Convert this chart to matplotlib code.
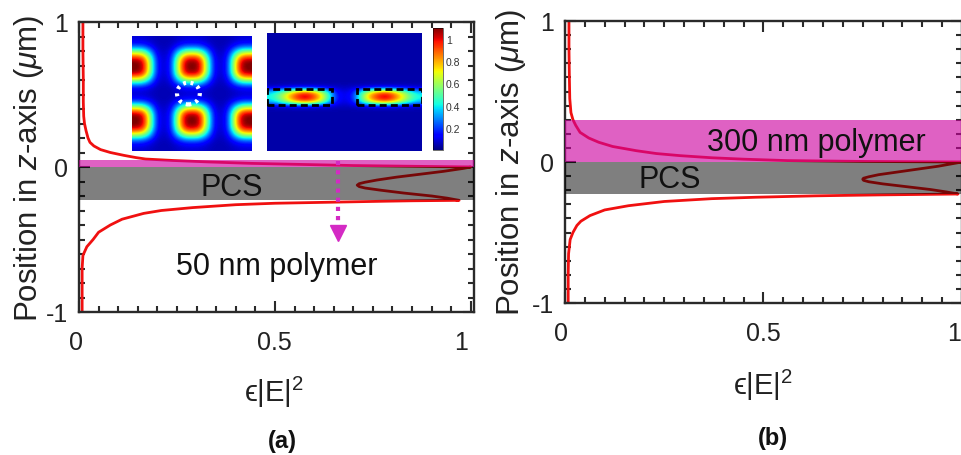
import numpy as np
import matplotlib
matplotlib.use("Agg")
import matplotlib.pyplot as plt
from matplotlib.patches import Rectangle, Circle
from matplotlib.cm import ScalarMappable
from matplotlib.colors import Normalize
from matplotlib.ticker import MultipleLocator
from matplotlib.transforms import ScaledTranslation

plt.rcParams['font.family'] = ['Liberation Sans', 'DejaVu Sans']
plt.rcParams['mathtext.fontset'] = 'custom'
plt.rcParams['mathtext.rm'] = 'Liberation Sans'
plt.rcParams['mathtext.it'] = 'Liberation Sans:italic'
plt.rcParams['mathtext.bf'] = 'Liberation Sans:bold'

# ---------------- data ----------------
# panel (a): field profile (z in um, eps|E|^2)
za_top = [1.0, 0.8, 0.6, 0.45, 0.35, 0.3, 0.25, 0.2, 0.17, 0.145, 0.12, 0.1, 0.08, 0.065, 0.055,
          0.045, 0.035, 0.025, 0.017, 0.01, 0.005, 0.0]
va_top = [0.01, 0.01, 0.011, 0.011, 0.012, 0.014, 0.018, 0.023, 0.028, 0.038, 0.055, 0.08, 0.115,
          0.145, 0.17, 0.24, 0.33, 0.44, 0.58, 0.7, 0.85, 1.0]
za_mid = [-0.01, -0.03, -0.05, -0.07, -0.09, -0.105, -0.115, -0.125, -0.135, -0.145, -0.16,
          -0.18, -0.2, -0.215, -0.23]
va_mid = [0.98, 0.93, 0.87, 0.81, 0.76, 0.73, 0.715, 0.71, 0.715, 0.73, 0.77, 0.83, 0.9,
          0.94, 0.97]
za_bot = [-0.233, -0.236, -0.24, -0.25, -0.26, -0.28, -0.3, -0.32, -0.36, -0.4, -0.45, -0.5,
          -0.55, -0.61, -0.7, -0.85, -1.0]
va_bot = [0.85, 0.78, 0.7, 0.5, 0.4, 0.29, 0.21, 0.165, 0.11, 0.08, 0.05, 0.036, 0.02, 0.01,
          0.008, 0.008, 0.008]

# panel (b)
zb_top = [1.0, 0.8, 0.6, 0.45, 0.35, 0.3, 0.26, 0.21, 0.17, 0.14, 0.11, 0.08, 0.06, 0.045,
          0.03, 0.02, 0.01, 0.004, 0.0]
vb_top = [0.01, 0.01, 0.011, 0.012, 0.015, 0.02, 0.027, 0.038, 0.06, 0.085, 0.12, 0.18, 0.23,
          0.29, 0.37, 0.45, 0.56, 0.75, 1.0]
zb_mid = [-0.01, -0.03, -0.05, -0.07, -0.09, -0.105, -0.115, -0.122, -0.13, -0.14, -0.155,
          -0.175, -0.195, -0.212, -0.227]
vb_mid = [0.98, 0.94, 0.89, 0.84, 0.79, 0.765, 0.752, 0.75, 0.752, 0.765, 0.8, 0.86, 0.92,
          0.96, 0.99]
zb_bot = [-0.23, -0.233, -0.237, -0.24, -0.25, -0.26, -0.28, -0.31, -0.34, -0.38, -0.42,
          -0.45, -0.5, -0.55, -0.65, -0.8, -1.0]
vb_bot = [0.9, 0.8, 0.7, 0.63, 0.48, 0.37, 0.25, 0.16, 0.1, 0.063, 0.04, 0.03, 0.02, 0.013,
          0.009, 0.008, 0.008]

# layer bounds (um)
pcs_bounds = (-0.23, 0.0)
polymer_a = (0.0, 0.05)
polymer_b = (0.0, 0.3)

x_ticks = [0, 0.5, 1]
x_ticklabels = ['0', '0.5', '1']
y_ticks = [-1, 0, 1]
y_ticklabels = ['-1', '0', '1']

# inset (top view) field: separable profiles across x and down y
xy_col_profile = [1.0, 0.95, 0.55, 0.1, 0.02, 0.1, 0.55, 0.95, 1.0, 0.95, 0.55, 0.1, 0.02,
                  0.1, 0.55, 0.95, 1.0]
xy_row_profile = [0.03, 0.14, 0.58, 0.95, 1.0, 0.95, 0.52, 0.09, 0.02, 0.09, 0.52, 0.95, 1.0,
                  0.95, 0.58, 0.14, 0.03]
xy_peak = 1.08
xy_background = 0.05

# inset (cross-section) field rows inside the slab
xz_center_row = [0.42, 0.55, 0.75, 0.95, 1.08, 1.0, 0.8, 0.5, 0.16, 0.1, 0.16, 0.5, 0.8,
                 0.98, 1.08, 0.95, 0.75, 0.55, 0.42]
xz_side_row = [0.36, 0.47, 0.64, 0.8, 0.9, 0.85, 0.68, 0.42, 0.14, 0.09, 0.14, 0.42, 0.68,
               0.83, 0.9, 0.8, 0.64, 0.47, 0.36]
xz_edge_row = [0.07, 0.08, 0.09, 0.1, 0.1, 0.1, 0.09, 0.08, 0.07, 0.06, 0.07, 0.08, 0.09,
               0.1, 0.1, 0.1, 0.09, 0.08, 0.07]
xz_background = 0.04
cbar_ticks = [0.2, 0.4, 0.6, 0.8, 1.0]
cbar_labels = ['0.2', '0.4', '0.6', '0.8', '1']

# ---------------- figure ----------------
W, H = 962, 456
fig = plt.figure(figsize=(W / 100, H / 100), dpi=100)


def fax(x0, y0, x1, y1):
    return [x0 / W, 1 - y1 / H, (x1 - x0) / W, (y1 - y0) / H]


red = '#f01010'
spine_c = '#2a2a2a'
pink = (0.80, 0.0, 0.62)
tick_fs = 18
text_fs = 22


def style_axes(ax, xmax, label_shift_px):
    ax.set_xlim(0, xmax)
    ax.set_ylim(-1, 1)
    ax.set_xticks(x_ticks)
    ax.set_xticklabels(x_ticklabels)
    ax.set_yticks(y_ticks)
    ax.set_yticklabels(y_ticklabels)
    ax.xaxis.set_minor_locator(MultipleLocator(0.05))
    ax.yaxis.set_minor_locator(MultipleLocator(0.1))
    ax.tick_params(which='both', direction='in', top=True, right=True, color=spine_c,
                   width=1.5)
    ax.tick_params(which='major', length=8, labelsize=tick_fs, labelcolor='#222222')
    ax.tick_params(which='minor', length=4.5)
    ax.tick_params(axis='x', which='major', pad=13)
    ax.tick_params(axis='y', which='major', pad=8)
    for s in ax.spines.values():
        s.set_color(spine_c)
        s.set_linewidth(1.7)
    for lab, dx in zip(ax.get_xticklabels(), label_shift_px):
        lab.set_transform(lab.get_transform() +
                          ScaledTranslation(dx / 100, 0, fig.dpi_scale_trans))


def draw_profile(ax, zt, vt, zm, vm, zb, vb, poly):
    z = list(zt) + list(zm) + list(zb)
    v = list(vt) + list(vm) + list(vb)
    ax.plot(v, z, color=red, lw=2.0, zorder=2)
    ax.axhspan(pcs_bounds[0], pcs_bounds[1], color='black', alpha=0.5, lw=0, zorder=3)
    ax.axhspan(poly[0], poly[1], color=pink, alpha=0.62, lw=0, zorder=3)


# panel (a)
axa = fig.add_axes(fax(79, 23, 474, 313))
style_axes(axa, 1.008, [-3, -1, -10])
draw_profile(axa, za_top, va_top, za_mid, va_mid, za_bot, va_bot, polymer_a)
axa.text(0.39, -0.135, 'PCS', fontsize=text_fs, ha='center', va='center', color='#111111',
         zorder=4)
axa.text(0.505, -0.68, '50 nm polymer', fontsize=text_fs, ha='center', va='center',
         color='#111111', zorder=4)
axa.plot([0.66, 0.66], [0.04, -0.42], color='#d42ac4', lw=3, ls=(0, (1, 1.2)), zorder=4)
axa.plot([0.66], [-0.455], marker='v', color='#d42ac4', markersize=12, zorder=4, lw=0)

# panel (b)
axb = fig.add_axes(fax(565, 22, 962, 304))
style_axes(axb, 1.0, [-4, 0, -8])
draw_profile(axb, zb_top, vb_top, zb_mid, vb_mid, zb_bot, vb_bot, polymer_b)
axb.text(0.263, -0.12, 'PCS', fontsize=text_fs, ha='center', va='center', color='#111111',
         zorder=4)
axb.text(0.634, 0.145, '300 nm polymer', fontsize=text_fs, ha='center', va='center',
         color='#111111', zorder=4)

# axis labels
ylab = r'Position in $z$-axis ($\mu$m)'
fig.text(29 / W, 1 - 168 / H, ylab, rotation=90, ha='center', va='center', fontsize=22.5,
         color='#222222')
fig.text(511 / W, 1 - 162 / H, ylab, rotation=90, ha='center', va='center', fontsize=22.5,
         color='#222222')
xlab = '\u03f5|E|$^2$'
fig.text(274 / W, 1 - 392 / H, xlab, ha='center', va='center', fontsize=21, color='#222222')
fig.text(763 / W, 1 - 385 / H, xlab, ha='center', va='center', fontsize=21, color='#222222')
fig.text(282 / W, 1 - 442 / H, '(a)', ha='center', va='center', fontsize=17,
         fontweight='bold', color='#111111')
fig.text(773 / W, 1 - 439 / H, '(b)', ha='center', va='center', fontsize=17,
         fontweight='bold', color='#111111')

# insets
norm = Normalize(0, 1.1)
xy_img = xy_peak * np.outer(xy_row_profile, xy_col_profile) + xy_background
ax_i1 = fig.add_axes(fax(132, 37, 252, 152))
ax_i1.imshow(xy_img, cmap='jet', norm=norm, interpolation='bicubic',
             extent=[0, 1, 0, 1], aspect='auto')
ax_i1.add_patch(Circle((0.47, 0.5), 0.095, fill=False, ec='white', lw=3,
                       ls=(0, (0.7, 1.1))))
ax_i1.set_xlim(0, 1)
ax_i1.set_ylim(0, 1)
ax_i1.axis('off')

n_rows = 25
img = np.full((n_rows, len(xz_center_row)), xz_background)
img[13] = xz_center_row
img[12] = xz_side_row
img[14] = xz_side_row
img[11] = xz_edge_row
img[15] = xz_edge_row
ax_i2 = fig.add_axes(fax(267, 34, 422, 152))
ax_i2.imshow(img, cmap='jet', norm=norm, interpolation='bicubic', extent=[0, 1, 0, 1],
             aspect='auto')
for x0, x1 in [(0.0, 0.417), (0.58, 1.0)]:
    ax_i2.add_patch(Rectangle((x0, 1 - 0.606), x1 - x0, 0.13, fill=False, ec='black', lw=2,
                              ls=(0, (2.5, 1.5))))
ax_i2.set_xlim(0, 1)
ax_i2.set_ylim(0, 1)
ax_i2.axis('off')

cax = fig.add_axes(fax(433, 29, 443, 151))
cb = fig.colorbar(ScalarMappable(norm=norm, cmap='jet'), cax=cax, ticks=cbar_ticks)
cb.ax.set_yticklabels(cbar_labels)
cb.ax.tick_params(length=0, labelsize=7.5, pad=2, colors='#333333')
cb.outline.set_linewidth(0.4)

fig.savefig('out.png', dpi=100)
